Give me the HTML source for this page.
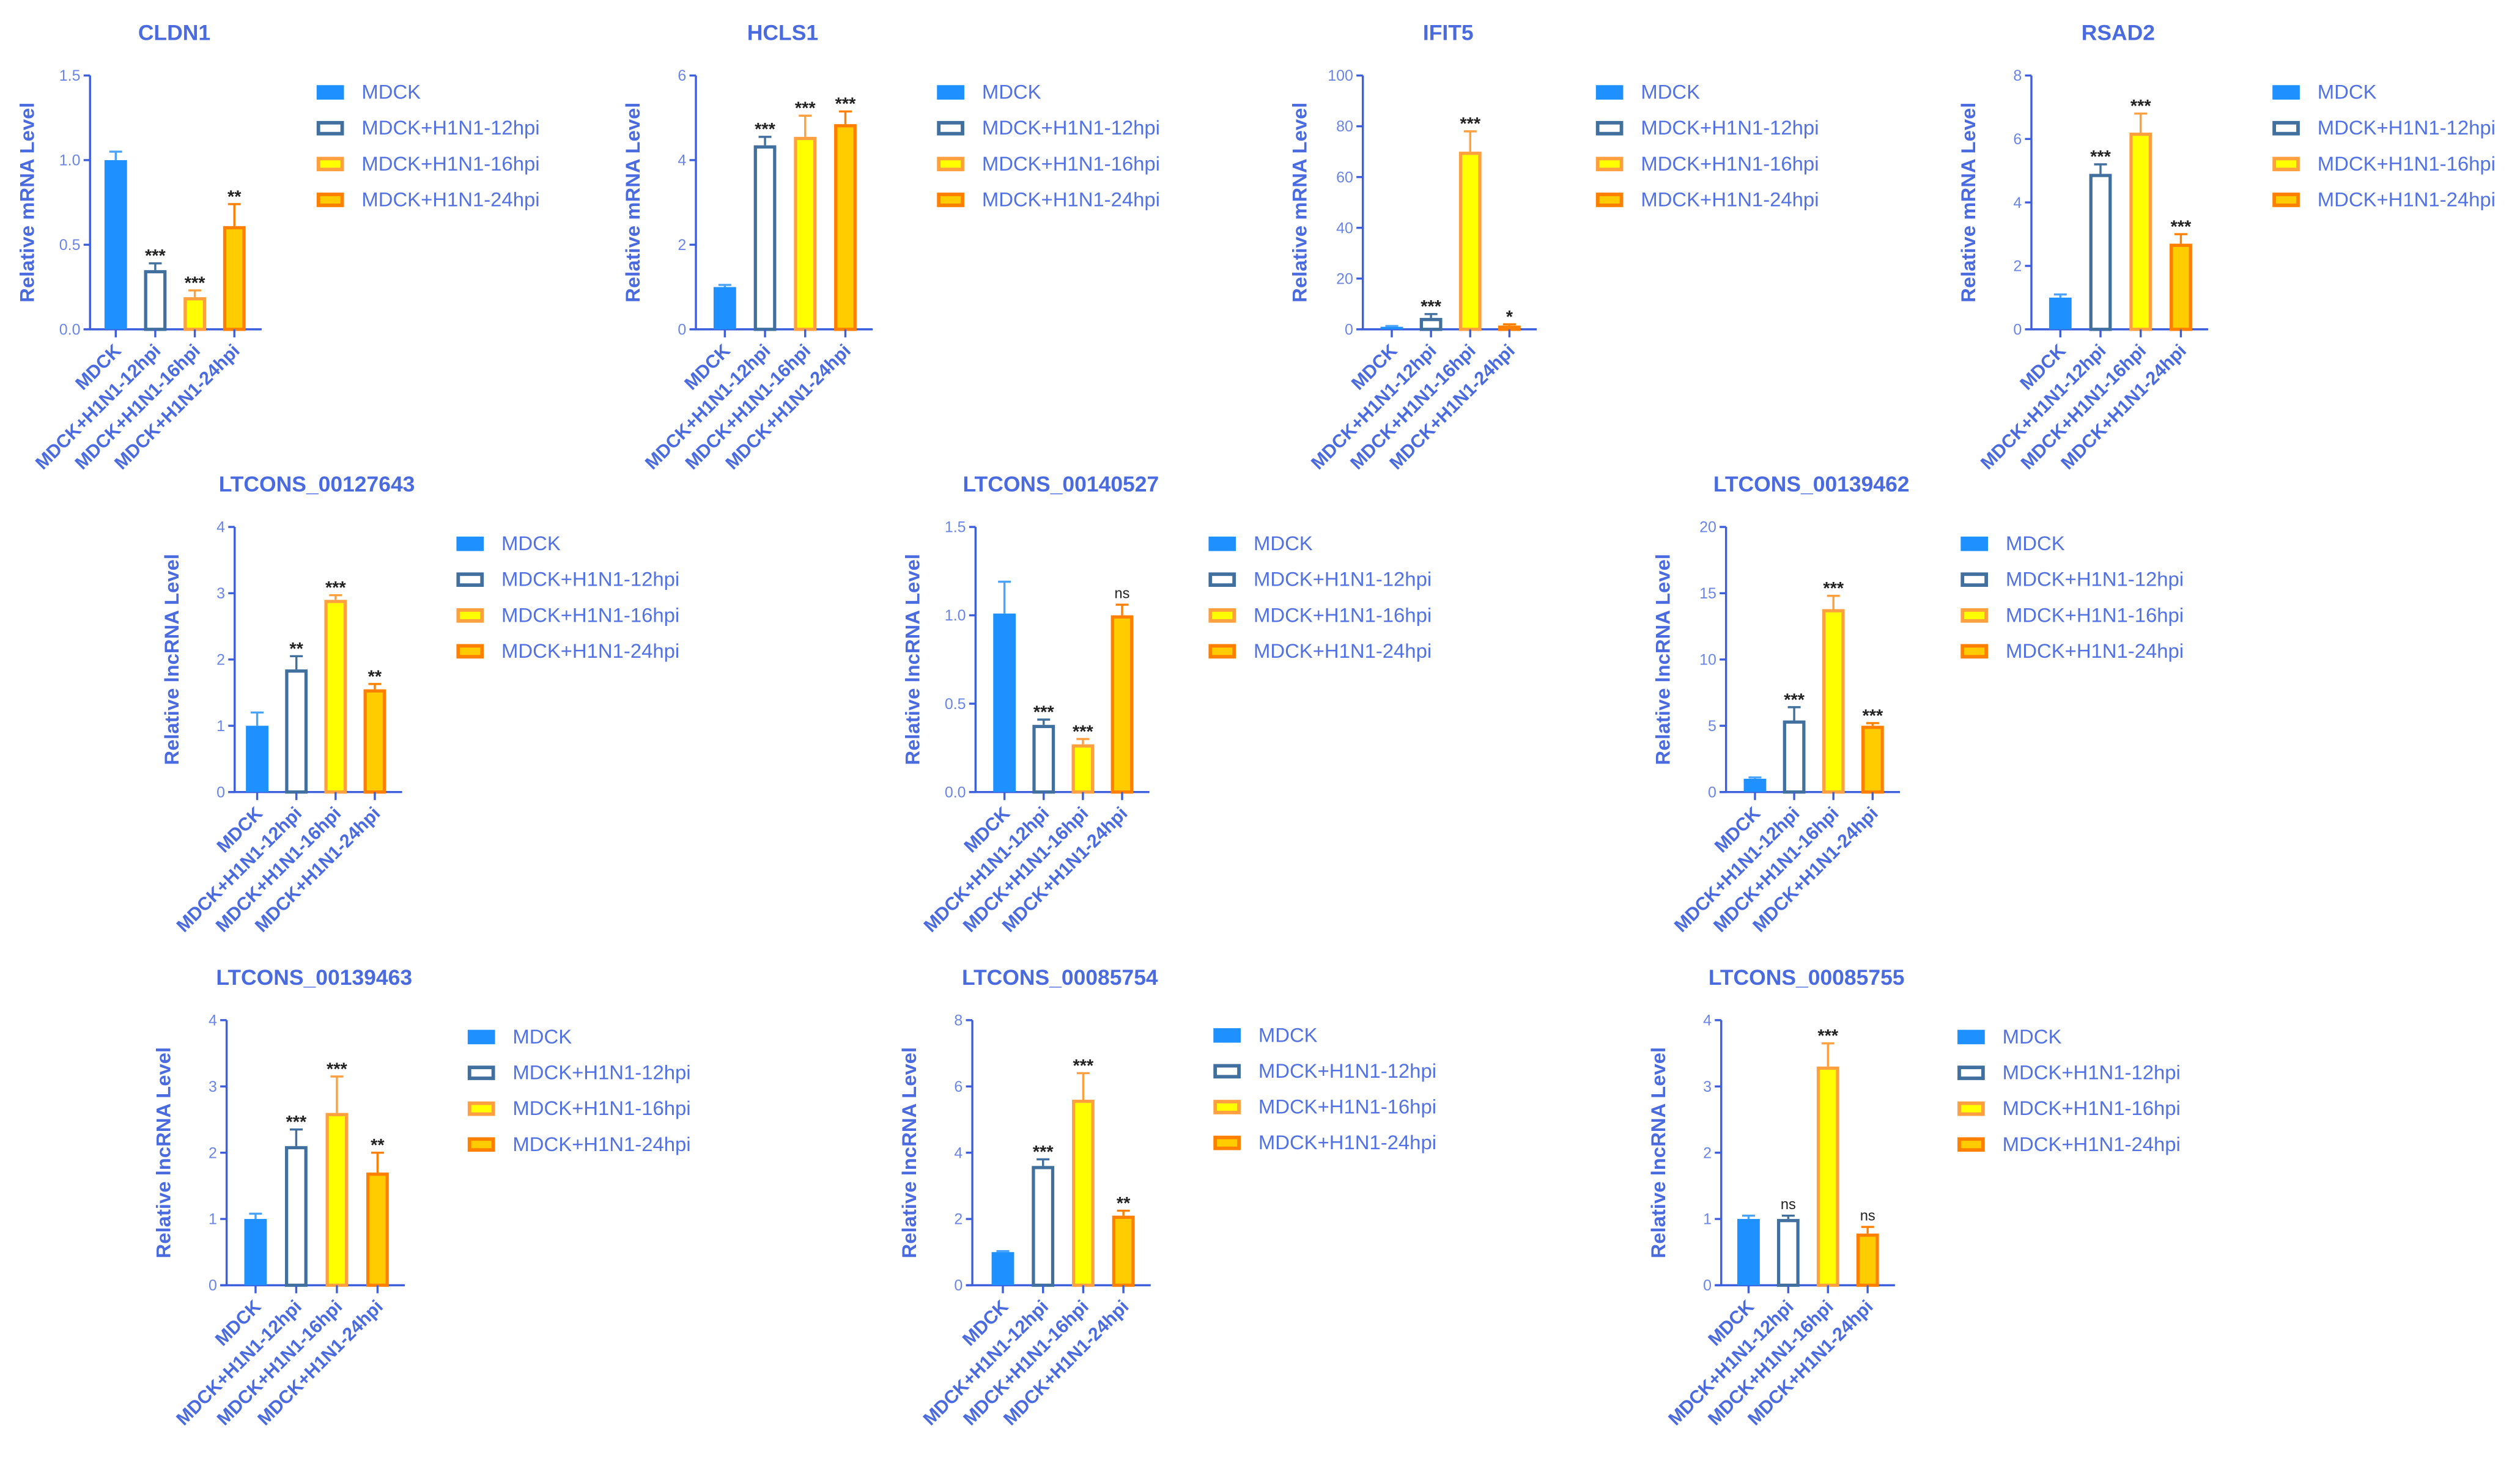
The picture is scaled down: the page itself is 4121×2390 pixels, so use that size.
<!DOCTYPE html>
<html><head><meta charset="utf-8"><style>
html,body{margin:0;padding:0;background:#fff;}
svg{display:block;font-family:"Liberation Sans",sans-serif;}
</style></head><body>
<svg id="fig" width="4121" height="2390" viewBox="0 0 1568 909.4" xmlns="http://www.w3.org/2000/svg"></svg>
<script>
const categories=["MDCK","MDCK+H1N1-12hpi","MDCK+H1N1-16hpi","MDCK+H1N1-24hpi"];
const titles=["CLDN1","HCLS1","IFIT5","RSAD2","LTCONS_00127643","LTCONS_00140527","LTCONS_00139462","LTCONS_00139463","LTCONS_00085754","LTCONS_00085755"];
const yLabels=["Relative mRNA Level","Relative mRNA Level","Relative mRNA Level","Relative mRNA Level","Relative lncRNA Level","Relative lncRNA Level","Relative lncRNA Level","Relative lncRNA Level","Relative lncRNA Level","Relative lncRNA Level"];
const means=[[1.0,0.35,0.19,0.61],[1.0,4.35,4.55,4.85],[1.0,4.5,70,1.5],[1.0,4.9,6.2,2.7],[1.0,1.85,2.9,1.55],[1.01,0.38,0.27,1.0],[1.0,5.4,13.8,5.0],[1.0,2.1,2.6,1.7],[1.0,3.6,5.6,2.1],[1.0,1.0,3.3,0.78]];
const errs=[[0.05,0.04,0.04,0.13],[0.05,0.2,0.5,0.3],[0.3,1.5,8,0.5],[0.1,0.3,0.6,0.3],[0.2,0.2,0.07,0.08],[0.18,0.03,0.03,0.06],[0.1,1.0,1.0,0.2],[0.08,0.25,0.55,0.3],[0.03,0.2,0.8,0.15],[0.05,0.05,0.35,0.1]];
const sigs=[["","***","***","**"],["","***","***","***"],["","***","***","*"],["","***","***","***"],["","**","***","**"],["","***","***","ns"],["","***","***","***"],["","***","***","**"],["","***","***","**"],["","ns","***","ns"]];
const yTicks=[["0.0","0.5","1.0","1.5"],["0","2","4","6"],["0","20","40","60","80","100"],["0","2","4","6","8"],["0","1","2","3","4"],["0.0","0.5","1.0","1.5"],["0","5","10","15","20"],["0","1","2","3","4"],["0","2","4","6","8"],["0","1","2","3","4"]];
const layout=[
 {ax:56,top:47,base:205,b0:72,step:24.6,leg:197,legY:57},
 {ax:433,top:47,base:205,b0:451,step:25,leg:583,legY:57},
 {ax:848,top:47,base:205,b0:866,step:24.4,leg:993,legY:57},
 {ax:1264,top:47,base:205,b0:1282,step:25,leg:1414,legY:57},
 {ax:146,top:328,base:493,b0:160,step:24.4,leg:284,legY:338},
 {ax:607,top:328,base:493,b0:625,step:24.4,leg:752,legY:338},
 {ax:1074,top:328,base:493,b0:1092,step:24.4,leg:1220,legY:338},
 {ax:141,top:635,base:800,b0:159,step:25.3,leg:291,legY:645},
 {ax:605,top:635,base:800,b0:624,step:25,leg:755,legY:644},
 {ax:1071,top:635,base:800,b0:1088,step:24.7,leg:1218,legY:645}
];
const fills=["#1e90ff","#ffffff","#ffff00","#ffcc00"];
const strokes=["#1e90ff","#41709f","#ffa040","#ff7f00"];
const errc=["#4aa3ff","#41709f","#ffa040","#ff7f00"];
const TXT="#4a6ae0", AX="#3d5fdc";
const NS="http://www.w3.org/2000/svg";
const svg=document.getElementById('fig');
function mk(tag,attrs,parent,text){const e=document.createElementNS(NS,tag);for(const k in attrs)e.setAttribute(k,attrs[k]);if(text!==undefined)e.textContent=text;parent.appendChild(e);return e;}
layout.forEach((L,ci)=>{
  const g=mk('g',{},svg);
  
  
  const ticks=yTicks[ci];const ymax=parseFloat(ticks[ticks.length-1]);
  const y=v=>L.base-(v/ymax)*(L.base-L.top);
  const x=i=>L.b0+i*L.step;
  const xEnd=x(3)+17;
  const t=mk('text',{x:(L.ax+xEnd)/2-1,y:L.top-22,'text-anchor':'middle','font-size':13.5,'font-weight':'bold',fill:TXT},g,titles[ci]);
  
  const yl=mk('text',{x:0,y:0,transform:`translate(${L.ax-35},${(L.top+L.base)/2}) rotate(-90)`,'text-anchor':'middle','font-size':12.5,'font-weight':'bold',fill:TXT},g,yLabels[ci]);
  
  const ya=mk('line',{x1:L.ax,y1:L.top,x2:L.ax,y2:L.base,stroke:AX,'stroke-width':1.3},g);
  
  const xa=mk('line',{x1:L.ax-4,y1:L.base,x2:xEnd,y2:L.base,stroke:AX,'stroke-width':1.3},g);
  
  ticks.forEach(tk=>{const v=parseFloat(tk);const yy=y(v);
    mk('line',{x1:L.ax-4,y1:yy,x2:L.ax,y2:yy,stroke:AX,'stroke-width':1.3},g);
    const tl=mk('text',{x:L.ax-6,y:yy+3.3,'text-anchor':'end','font-size':9.5,fill:'#6a85e8'},g,tk);
    
  });
  categories.forEach((c,i)=>{
    const cx=x(i),m=means[ci][i],e=errs[ci][i],w=14;
    const sw=i===0?0:2;
    const r=mk('rect',{x:cx-w/2+sw/2,y:y(m)+sw/2,width:w-sw,height:Math.max(0,L.base-y(m)-sw/2),fill:fills[i],stroke:i===0?'none':strokes[i],'stroke-width':sw},g);
    
    const eb=mk('path',{d:`M${cx},${y(m)} V${y(m+e)} M${cx-4},${y(m+e)} H${cx+4}`,stroke:errc[i],'stroke-width':1.3,fill:'none'},g);
    
    mk('line',{x1:cx,y1:L.base,x2:cx,y2:L.base+5,stroke:AX,'stroke-width':1.3},g);
    const xl=mk('text',{x:0,y:0,transform:`translate(${cx+4},${L.base+14}) rotate(-45)`,'text-anchor':'end','font-size':11.5,'font-weight':'bold',fill:TXT},g,c);
    
    if(sigs[ci][i]){const s=mk('text',{x:cx,y:y(m+e)-(sigs[ci][i]==='ns'?4:1),'text-anchor':'middle','font-size':sigs[ci][i]==='ns'?9:11,'font-weight':sigs[ci][i]==='ns'?'normal':'bold',fill:'#222'},g,sigs[ci][i]);
      }
  });
  categories.forEach((c,i)=>{
    const ly=L.legY+i*22.3;
    const sw=i===0?0:2.2;
    mk('rect',{x:L.leg+sw/2,y:ly-4+sw/2,width:17-sw,height:9-sw,fill:fills[i],stroke:i===0?'none':strokes[i],'stroke-width':sw},g);
    const lt=mk('text',{x:L.leg+28,y:ly+4.5,'font-size':12.5,fill:'#5272e4'},g,c);
    
  });
});
</script>
</body></html>
